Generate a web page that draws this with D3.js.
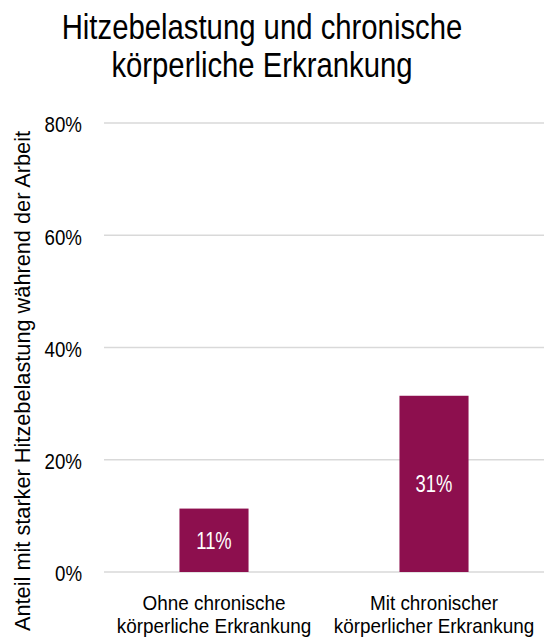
<!DOCTYPE html>
<html>
<head>
<meta charset="utf-8">
<script src="https://cdn.jsdelivr.net/npm/d3@7"></script>
<style>
  body { margin: 0; background: #fff; }
  text { font-family: "Liberation Sans", Arial, sans-serif; }
</style>
</head>
<body>
<div id="chart"></div>
<script>
// chart data
var categories = [
  ["Ohne chronische", "körperliche Erkrankung"],
  ["Mit chronischer", "körperlicher Erkrankung"]
];
var values = [11.3, 31.4];
var barLabels = ["11%", "31%"];
var yTicks = [0, 20, 40, 60, 80];
var titleLines = ["Hitzebelastung und chronische", "körperliche Erkrankung"];
var yTitle = "Anteil mit starker Hitzebelastung während der Arbeit";

var svgWidth = 544;
var svgHeight = 641;

var margin = { top: 123, right: 0, bottom: 69, left: 104 };
var width = svgWidth - margin.left - margin.right;
var height = svgHeight - margin.top - margin.bottom;

// the reference uses a narrow face, squeeze the text to match
function condense(sel, factor) {
  sel.each(function() {
    var len = this.getComputedTextLength();
    d3.select(this)
      .attr("textLength", len * factor)
      .attr("lengthAdjust", "spacingAndGlyphs");
  });
}

var svg = d3.select("#chart")
  .append("svg")
  .attr("width", svgWidth)
  .attr("height", svgHeight);

// title
svg.append("g").selectAll("text")
  .data(titleLines)
  .join("text")
  .attr("x", 262)
  .attr("y", (d, i) => 39 + i * 38)
  .attr("text-anchor", "middle")
  .attr("font-size", 35)
  .attr("fill", "#000")
  .text(d => d)
  .call(condense, 0.837);

var chartGroup = svg.append("g")
  .attr("transform", `translate(${margin.left}, ${margin.top})`);

var x = d3.scaleBand()
  .domain(d3.range(categories.length))
  .range([0, width])
  .paddingInner(0.686)
  .paddingOuter(0.343);

var y = d3.scaleLinear()
  .domain([0, 80])
  .range([height, 0]);

// gridlines
chartGroup.append("g")
  .selectAll("line")
  .data(yTicks)
  .join("line")
  .attr("x1", 0)
  .attr("x2", width)
  .attr("y1", d => y(d))
  .attr("y2", d => y(d))
  .attr("stroke", "#d9d9d9")
  .attr("stroke-width", 1.5);

// y tick labels
var leftAxis = d3.axisLeft(y)
  .tickValues(yTicks)
  .tickFormat(d => d + "%")
  .tickSize(0)
  .tickPadding(22);

var yAxisG = chartGroup.append("g").call(leftAxis);
yAxisG.select(".domain").remove();
yAxisG.selectAll("text")
  .attr("font-size", 22)
  .attr("dy", "0.4em")
  .attr("fill", "#000")
  .style("font-family", "\"Liberation Sans\", Arial, sans-serif")
  .call(condense, 0.85);

// bars
chartGroup.append("g")
  .selectAll("rect")
  .data(values)
  .join("rect")
  .attr("x", (d, i) => x(i))
  .attr("y", d => y(d))
  .attr("width", x.bandwidth())
  .attr("height", d => height - y(d))
  .attr("fill", "#8d0f4e");

// bar value labels
chartGroup.append("g")
  .selectAll("text")
  .data(values)
  .join("text")
  .attr("x", (d, i) => x(i) + x.bandwidth() / 2)
  .attr("y", d => (y(d) + height) / 2 + 8.5)
  .attr("text-anchor", "middle")
  .attr("font-size", 23)
  .attr("fill", "#fff")
  .text((d, i) => barLabels[i])
  .call(condense, 0.8);

// category labels, one text per line
var catG = chartGroup.append("g")
  .selectAll("g")
  .data(categories)
  .join("g")
  .attr("transform", (d, i) => `translate(${x(i) + x.bandwidth() / 2}, ${height + 38})`);

catG.selectAll("text")
  .data(d => d)
  .join("text")
  .attr("y", (d, i) => i * 23)
  .attr("text-anchor", "middle")
  .attr("font-size", 21)
  .attr("fill", "#000")
  .text(d => d)
  .call(condense, 0.9);

// y axis title
svg.append("text")
  .attr("transform", "translate(30, 381) rotate(-90)")
  .attr("text-anchor", "middle")
  .attr("font-size", 22)
  .attr("fill", "#000")
  .attr("textLength", 500)
  .attr("lengthAdjust", "spacingAndGlyphs")
  .text(yTitle);
</script>
</body>
</html>
